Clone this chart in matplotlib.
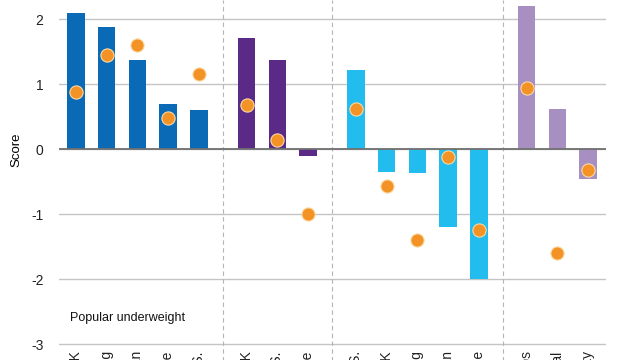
import matplotlib.pyplot as plt
import numpy as np

plt.rcParams['font.family'] = ['Liberation Sans', 'DejaVu Sans']

# Categories per group (labels are cut off at the bottom of the image)
labels_1 = ["Value UK", "Value Hong Kong", "Value Japan", "Value Europe", "Value U.S."]
labels_2 = ["Momentum UK", "Momentum U.S.", "Momentum Europe"]
labels_3 = ["Quality U.S.", "Quality UK", "Quality Hong Kong", "Quality Japan", "Quality Europe"]
labels_4 = ["Small caps", "Global", "Min volatility"]

# Bar values (score)
bars_1 = [2.10, 1.88, 1.37, 0.70, 0.60]
bars_2 = [1.72, 1.38, -0.10]
bars_3 = [1.22, -0.35, -0.37, -1.19, -1.99]
bars_4 = [2.20, 0.62, -0.45]

# Orange dot values
dots_1 = [0.88, 1.46, 1.61, 0.48, 1.16]
dots_2 = [0.69, 0.15, -1.00]
dots_3 = [0.62, -0.56, -1.40, -0.11, -1.24]
dots_4 = [0.94, -1.59, -0.31]

groups = [(labels_1, bars_1, dots_1, "#0a6ab5"),
          (labels_2, bars_2, dots_2, "#5b2a86"),
          (labels_3, bars_3, dots_3, "#22bcee"),
          (labels_4, bars_4, dots_4, "#a88fc2")]

fig = plt.figure(figsize=(6.4, 3.6), dpi=100)
ax = fig.add_axes([0.092, 0.04, 0.855, 0.96])

gap = 1.55
start = 0.0
all_pos = []
all_labels = []
seps = []
for labels, bars, dots, color in groups:
    pos = start + np.arange(len(labels))
    ax.bar(pos, bars, width=0.57, color=color, zorder=2)
    ax.plot(pos, dots, "o", color="#f39325", markersize=9.5,
            markeredgecolor="#fbd9a6", markeredgewidth=0.8, zorder=3)
    all_pos += list(pos)
    all_labels += labels
    seps.append(pos[-1] + gap / 2)
    start = pos[-1] + gap

# dashed separators between groups, running down through the label area
for s in seps[:-1]:
    ax.plot([s, s], [-0.1, 1], transform=ax.get_xaxis_transform(),
            color="#b5b5b5", linestyle=(0, (4, 3)), linewidth=0.8,
            clip_on=False, zorder=1)

ax.set_ylim(-3.02, 2.3)
ax.set_xlim(-0.55, all_pos[-1] + 0.58)
ax.set_yticks([-3, -2, -1, 0, 1, 2])
ax.set_yticklabels(["-3", "-2", "-1", "0", "1", "2"])
ax.yaxis.grid(True, color="#c4c4c4", linewidth=1)
ax.axhline(0, color="#707070", linewidth=1.3, zorder=2.5)
ax.set_axisbelow(True)

for sp in ax.spines.values():
    sp.set_visible(False)
ax.tick_params(axis="y", length=0, pad=11, labelsize=10, colors="#222222")
ax.set_xticks(all_pos)
ax.set_xticklabels(all_labels, rotation=90, ha="center", va="top")
ax.tick_params(axis="x", length=0, pad=4, labelsize=10, colors="#222222")

ax.set_ylabel("Score", fontsize=9.5)
ax.yaxis.set_label_coords(-0.066, 0.567)

ax.text(-0.18, -2.59, "Popular underweight", fontsize=9, va="center", ha="left", color="#111111")

fig.savefig("out.png", dpi=100)
